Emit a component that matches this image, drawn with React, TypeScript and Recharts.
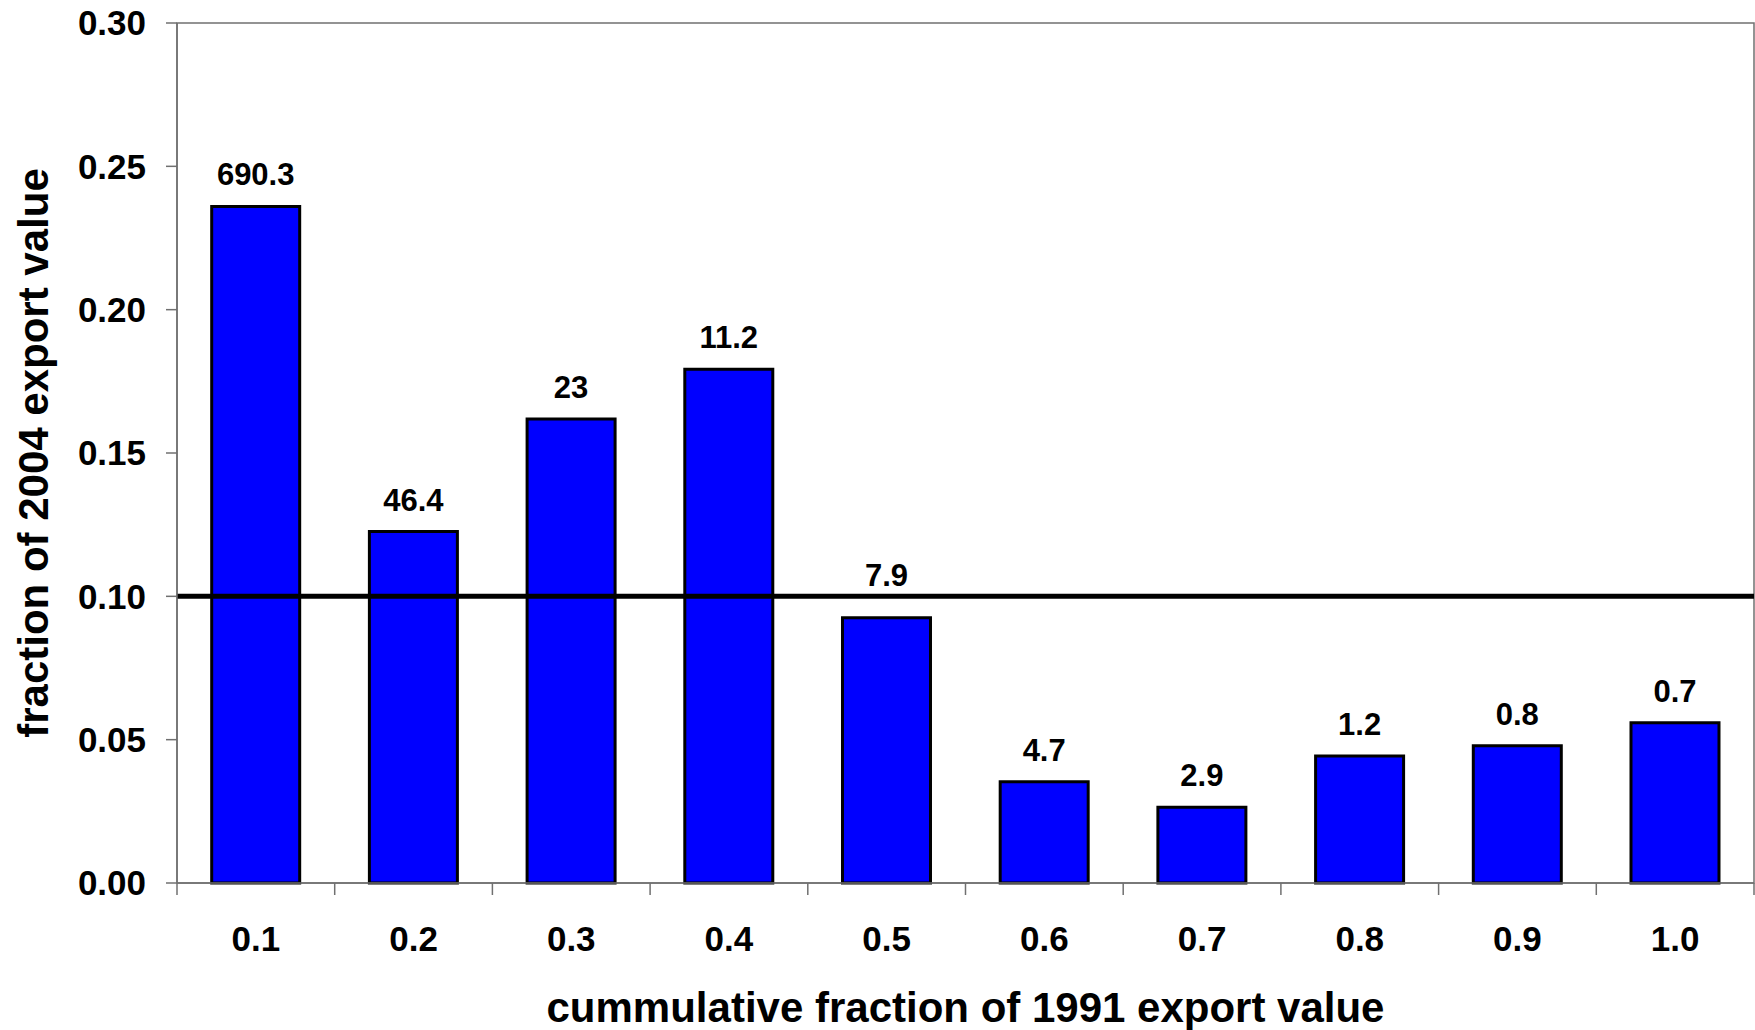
import React from "react";
import {
    BarChart,
    Bar,
    XAxis,
    YAxis,
    Label,
    LabelList,
    ReferenceLine,
    ReferenceArea,
} from "recharts";

const categories = ["0.1", "0.2", "0.3", "0.4", "0.5", "0.6", "0.7", "0.8", "0.9", "1.0"];
const shares = [0.236, 0.1226, 0.1619, 0.1792, 0.0925, 0.0353, 0.0264, 0.0443, 0.0479, 0.0559];
const growthLabels = ["690.3", "46.4", "23", "11.2", "7.9", "4.7", "2.9", "1.2", "0.8", "0.7"];
const yTicks = [0, 0.05, 0.1, 0.15, 0.2, 0.25, 0.3];
const threshold = 0.1;

const data = categories.map((name, i) => ({
    name,
    share: shares[i],
    growth: growthLabels[i],
}));

const FONT = "Arial, 'Liberation Sans', sans-serif";
const AXIS_GREY = "#707070";

// category label plus an Excel-style tick on the left edge of each band
function CategoryTick(props: any) {
    const { x, y, payload, index, width, visibleTicksCount } = props;
    const half = payload.offset ?? width / visibleTicksCount / 2;
    const axisY = y - 43;
    return (
        <g>
            <line x1={x - half} y1={axisY} x2={x - half} y2={axisY + 12} stroke={AXIS_GREY} strokeWidth={1.5} />
            {index === visibleTicksCount - 1 && (
                <line x1={x + half} y1={axisY} x2={x + half} y2={axisY + 12} stroke={AXIS_GREY} strokeWidth={1.5} />
            )}
            <text x={x} y={y} dy="0.71em" textAnchor="middle" fontFamily={FONT} fontWeight="bold" fontSize={35} fill="#000">
                {payload.value}
            </text>
        </g>
    );
}

function GrowthLabel(props: any) {
    const { x, y, width, value, index } = props;
    // the 7.9 label sits a bit higher so it clears the 0.10 line
    const lift = index === 4 ? 32 : 21;
    return (
        <text x={x + width / 2} y={y - lift} textAnchor="middle" fontFamily={FONT} fontWeight="bold" fontSize={31} fill="#000">
            {value}
        </text>
    );
}

export default function App() {
    return (
        <div style={{ width: 1755, height: 1030, background: "#fff" }}>
            <style>{"body{margin:0}"}</style>
            <BarChart
                width={1755}
                height={1030}
                data={data}
                margin={{ top: 23, right: 1, bottom: 0, left: 0 }}
                barCategoryGap="22%"
            >
                <ReferenceArea y1={0} y2={0.3} fill="none" stroke={AXIS_GREY} strokeWidth={1.5} ifOverflow="visible" />
                <XAxis
                    dataKey="name"
                    height={147}
                    interval={0}
                    tickSize={12}
                    tickMargin={31}
                    tickLine={false}
                    axisLine={{ stroke: AXIS_GREY, strokeWidth: 1.5 }}
                    tick={<CategoryTick />}
                >
                    <Label
                        value="cummulative fraction of 1991 export value"
                        position="insideBottom"
                        offset={8}
                        style={{ fontFamily: FONT, fontWeight: "bold", fontSize: 42, fill: "#000" }}
                    />
                </XAxis>
                <YAxis
                    width={177}
                    domain={[0, 0.3]}
                    ticks={yTicks}
                    interval={0}
                    tickSize={11}
                    tickMargin={20}
                    tickFormatter={(v: number) => v.toFixed(2)}
                    axisLine={{ stroke: AXIS_GREY, strokeWidth: 1.5 }}
                    tickLine={{ stroke: AXIS_GREY, strokeWidth: 1.5 }}
                    tick={{ fontFamily: FONT, fontWeight: "bold", fontSize: 35, fill: "#000" }}
                >
                    <Label
                        value="fraction of 2004 export value"
                        angle={-90}
                        position="insideLeft"
                        offset={33}
                        style={{ textAnchor: "middle", fontFamily: FONT, fontWeight: "bold", fontSize: 42, fill: "#000" }}
                    />
                </YAxis>
                <Bar dataKey="share" fill="#0000FF" stroke="#000" strokeWidth={3} isAnimationActive={false}>
                    <LabelList dataKey="growth" content={<GrowthLabel />} />
                </Bar>
                <ReferenceLine y={threshold} stroke="#000" strokeWidth={5} />
            </BarChart>
        </div>
    );
}
